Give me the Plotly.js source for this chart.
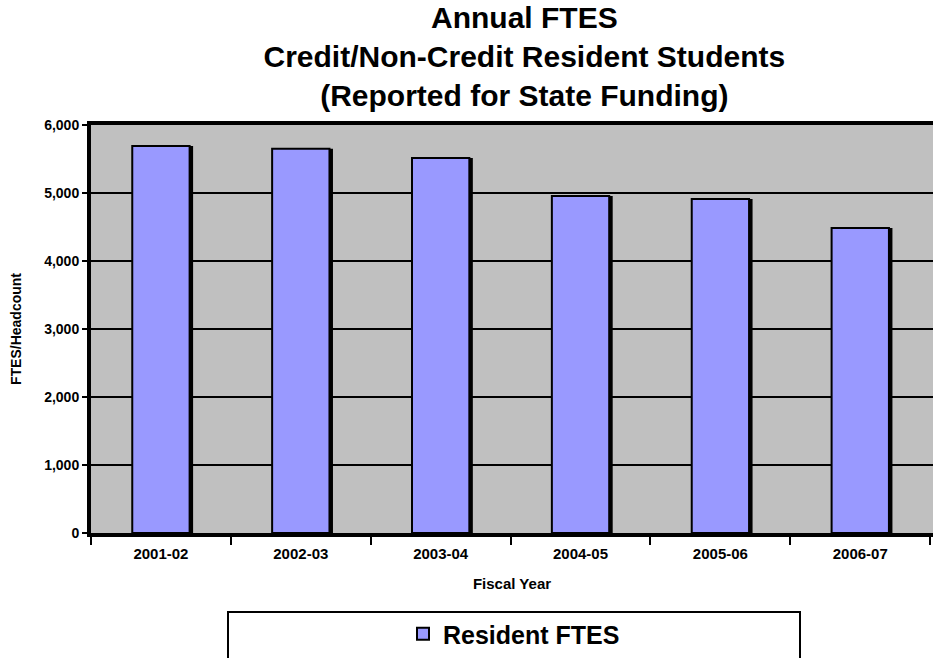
<!DOCTYPE html>
<html>
<head>
<meta charset="utf-8">
<script src="https://cdn.plot.ly/plotly-3.0.1.min.js"></script>
<style>html,body{margin:0;padding:0;background:#fff;}#chart{width:933px;height:658px;}</style>
</head>
<body>
<div id="chart"></div>
<script>
const years = ["2001-02", "2002-03", "2003-04", "2004-05", "2005-06", "2006-07"];
const residentFTES = [5690, 5650, 5515, 4955, 4910, 4484];
const yTicks = [0, 1000, 2000, 3000, 4000, 5000, 6000];
const yTickLabels = ["0", "1,000", "2,000", "3,000", "4,000", "5,000", "6,000"];

const FONT = "Liberation Sans, Arial, sans-serif";
const barW = 0.41;

const shadow = {
  type: "bar", x: years, y: residentFTES,
  width: barW, offset: -barW / 2 + 0.025,
  marker: {color: "#000000", line: {width: 0}},
  showlegend: false, hoverinfo: "skip"
};
const main = {
  type: "bar", name: "Resident FTES", x: years, y: residentFTES,
  width: barW, offset: -barW / 2,
  marker: {color: "#9999ff", line: {color: "#000000", width: 2}}
};

const layout = {
  width: 933, height: 658,
  margin: {l: 91, r: 0, t: 125, b: 125},
  paper_bgcolor: "#ffffff",
  plot_bgcolor: "#c0c0c0",
  barmode: "overlay",
  font: {family: FONT, color: "#000000"},
  title: {
    text: "Annual FTES<br>Credit/Non-Credit Resident Students<br>(Reported for State Funding)",
    font: {family: FONT, size: 30, weight: "bold", color: "#000"},
    xref: "container", x: 0.562, xanchor: "center",
    yref: "container", y: 0.958, yanchor: "top"
  },
  xaxis: {
    type: "category",
    range: [-0.5, 5.52],
    showline: true, linecolor: "#000", linewidth: 4, mirror: true,
    ticks: "outside", tickson: "boundaries", ticklen: 8, tickwidth: 2, tickcolor: "#000",
    ticklabelstandoff: 4,
    tickfont: {family: FONT, size: 15, weight: "bold"},
    showgrid: false, zeroline: false,
    title: {text: "Fiscal Year", font: {family: FONT, size: 15, weight: "bold"}, standoff: 18}
  },
  yaxis: {
    range: [0, 6000],
    tickvals: yTicks, ticktext: yTickLabels,
    showline: true, linecolor: "#000", linewidth: 4,
    ticks: "outside", ticklen: 5, tickwidth: 2, tickcolor: "#000",
    tickfont: {family: FONT, size: 14, weight: "bold"},
    showgrid: true, gridcolor: "#000", gridwidth: 2,
    zeroline: false,
    title: {text: "FTES/Headcount", font: {family: FONT, size: 14, weight: "bold"}, standoff: 20}
  },
  showlegend: true,
  legend: {
    orientation: "h",
    x: (514 - 91) / 842, xanchor: "center",
    y: (533 - 634) / 408, yanchor: "middle",
    bgcolor: "rgba(0,0,0,0)", borderwidth: 0,
    font: {family: FONT, size: 25, weight: "bold", color: "#000"}
  },
  shapes: [{
    type: "rect", xref: "paper", yref: "paper",
    x0: (228 - 91) / 842, x1: (800 - 91) / 842,
    y0: (533 - 612) / 408, y1: (533 - 662) / 408,
    line: {color: "#000", width: 2}, fillcolor: "#ffffff", layer: "below"
  }]
};

Plotly.newPlot("chart", [shadow, main], layout, {displayModeBar: false, staticPlot: true});
</script>
</body>
</html>
